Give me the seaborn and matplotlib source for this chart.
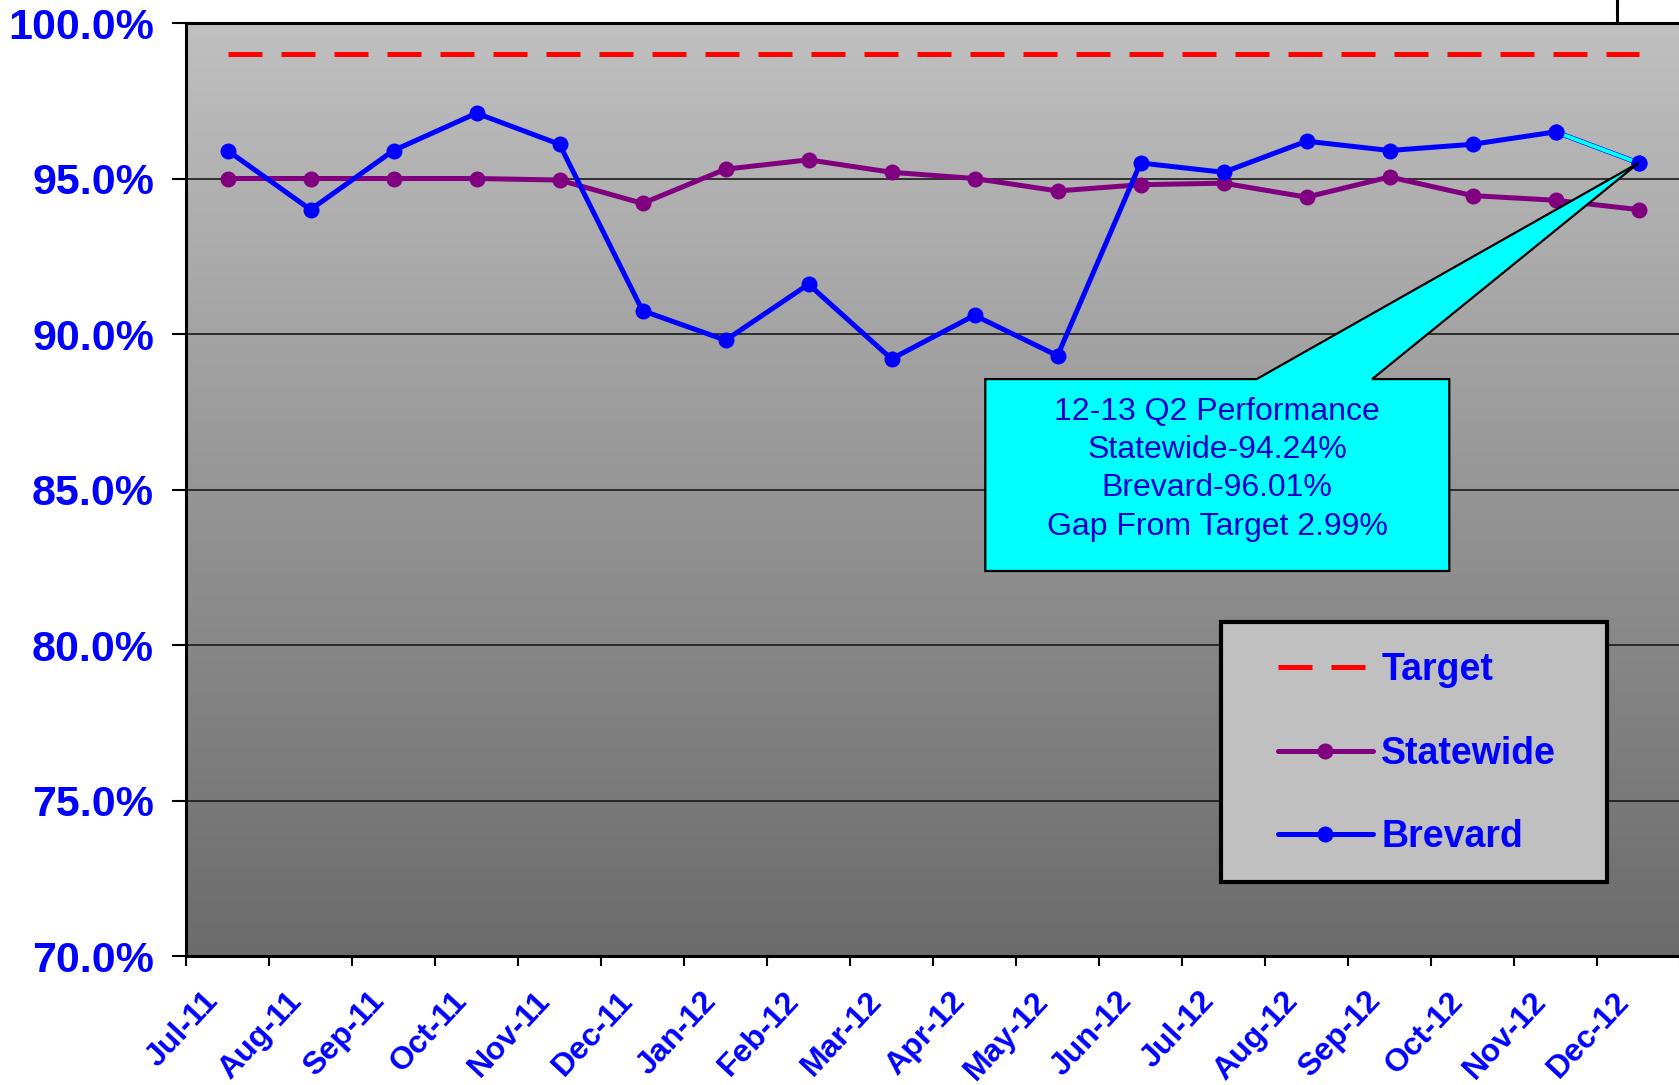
import matplotlib
matplotlib.use("Agg")
import matplotlib.pyplot as plt
import numpy as np
import pandas as pd
import seaborn as sns
from matplotlib.colors import LinearSegmentedColormap
from matplotlib.lines import Line2D
from matplotlib.patches import Polygon, Rectangle
from matplotlib.transforms import ScaledTranslation

# Monthly values (percent)
months = ["Jul-11", "Aug-11", "Sep-11", "Oct-11", "Nov-11", "Dec-11",
          "Jan-12", "Feb-12", "Mar-12", "Apr-12", "May-12", "Jun-12",
          "Jul-12", "Aug-12", "Sep-12", "Oct-12", "Nov-12", "Dec-12"]
target = [99.0] * 18
statewide = [95.0, 95.0, 95.0, 95.0, 94.95, 94.2, 95.3, 95.6, 95.2, 95.0,
             94.6, 94.8, 94.85, 94.4, 95.05, 94.45, 94.3, 94.0]
brevard = [95.9, 94.0, 95.9, 97.1, 96.1, 90.75, 89.8, 91.6, 89.2, 90.6,
           89.3, 95.5, 95.2, 96.2, 95.9, 96.1, 96.5, 95.5]
y_ticks = [70, 75, 80, 85, 90, 95, 100]
callout_lines = ["12-13 Q2 Performance", "Statewide-94.24%",
                 "Brevard-96.01%", "Gap From Target 2.99%"]

sns.set_theme(style="white")
plt.rcParams["font.family"] = ["Liberation Sans", "DejaVu Sans"]

df = pd.DataFrame({"pos": range(len(months)), "month": months,
                   "Target": target, "Statewide": statewide, "Brevard": brevard})

fig = plt.figure(figsize=(16.79, 10.85), dpi=100)
ax = fig.add_axes([0.1108, 0.11889, 0.8898, 0.85991])

# grey gradient background
grad = np.linspace(0, 1, 256).reshape(-1, 1)
cmap = LinearSegmentedColormap.from_list("bg", ["#6b6b6b", "#c0c0c0"])
ax.imshow(grad, extent=[0, 1, 0, 1], transform=ax.transAxes, origin="lower",
          aspect="auto", cmap=cmap, zorder=0)

for y in y_ticks[1:-1]:
    ax.axhline(y, color="#1a1a1a", lw=1.2, zorder=1)

dash = (6.8, 3.8)
sns.lineplot(data=df, x="pos", y="Target", ax=ax, color="#ff0000", lw=3.6,
             zorder=3, label="Target").lines[-1].set_dashes(dash)
sns.lineplot(data=df, x="pos", y="Statewide", ax=ax, color="#800080", lw=3.6,
             marker="o", markersize=11.5, markeredgewidth=0, zorder=4, label="Statewide")
sns.lineplot(data=df, x="pos", y="Brevard", ax=ax, color="#0000ff", lw=3.6,
             marker="o", markersize=11.5, markeredgewidth=0, zorder=5, label="Brevard")
# last Brevard segment highlighted in cyan
ax.plot(df["pos"].iloc[-2:], df["Brevard"].iloc[-2:], color="#00ffff", lw=2.8, zorder=5.5)
ax.plot(df["pos"].iloc[-2:], df["Brevard"].iloc[-2:], "o", color="#0000ff",
        markersize=11.5, markeredgewidth=0, zorder=6)

ax.set_xlim(-0.5, len(months) - 0.5)
ax.set_ylim(70, 100)
ax.set_xlabel("")
ax.set_ylabel("")

ax.set_yticks(y_ticks)
ax.set_yticklabels([f"{v:.1f}%" for v in y_ticks])
ax.tick_params(axis="y", left=True, length=10, width=1.5, color="black", pad=13,
               labelsize=31, labelcolor="#0000ff")
for lab in ax.get_yticklabels():
    lab.set_fontweight("bold")

ax.set_xticks(range(len(months)))
ax.set_xticklabels(months, rotation=47, ha="right", va="baseline",
                   rotation_mode="anchor", fontsize=23, fontweight="bold", color="#0000ff")
ax.tick_params(axis="x", which="major", length=0, pad=33)
shift = ScaledTranslation(-8 / 100, 0, fig.dpi_scale_trans)
for lab in ax.get_xticklabels():
    lab.set_transform(lab.get_transform() + shift)
ax.set_xticks(np.arange(-0.5, len(months)), minor=True)
ax.tick_params(axis="x", which="minor", bottom=True, length=7, width=1.5, color="black")

for side in ["left", "bottom", "top"]:
    ax.spines[side].set_color("black")
    ax.spines[side].set_linewidth(2.2)
ax.spines["right"].set_visible(False)

# callout box pointing at the last Brevard value
x0, x1, y0, y1 = 9.13, 14.72, 82.38, 88.55
tip = (len(months) - 1, brevard[-1])
callout = Polygon([(x0, y0), (x0, y1), (12.40, y1), tip, (13.79, y1), (x1, y1), (x1, y0)],
                  closed=True, facecolor="#00ffff", edgecolor="black", lw=1.6, zorder=7)
ax.add_patch(callout)
ax.text((x0 + x1) / 2, 85.65, "\n".join(callout_lines), ha="center", va="center",
        multialignment="center", fontsize=23, linespacing=1.36, color="#0000cc", zorder=8)

# legend frame drawn separately so the entries can sit inset like the original
frame = Rectangle((1221 / 1679, 1 - 882 / 1085), 386 / 1679, 260 / 1085,
                  transform=fig.transFigure, facecolor="#c0c0c0", edgecolor="black",
                  lw=3, zorder=8.5)
ax.add_patch(frame)
leg = ax.legend(loc="upper left", bbox_to_anchor=(1278 / 1679, 1 - 652 / 1085),
                bbox_transform=fig.transFigure, fontsize=27, frameon=False,
                handlelength=2.53, handletextpad=0.22, labelspacing=1.27,
                borderpad=0, borderaxespad=0, labelcolor="#0000ff", numpoints=1)
leg.set_zorder(9)
for t in leg.get_texts():
    t.set_fontweight("bold")
leg.legend_handles[0].set_dashes(dash)

fig.add_artist(Line2D([0.9631, 0.9631], [0.9788, 1.0], color="black", lw=2.2))

fig.savefig("out.png", dpi=100)
